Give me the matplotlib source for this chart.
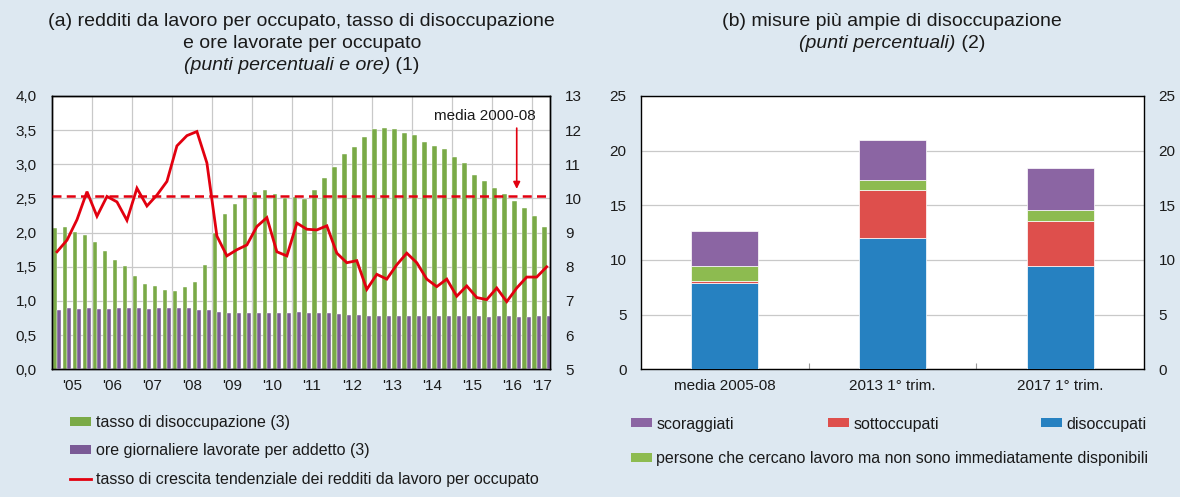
import matplotlib
matplotlib.use('Agg')
import matplotlib.pyplot as plt
import numpy as np
from matplotlib.patches import Patch
from matplotlib.lines import Line2D

plt.rcParams['font.family'] = ['Liberation Sans', 'DejaVu Sans']

W, H = 1180, 497
BG = '#dde8f1'
TXT = '#1a1a1a'

# ---------------- data: panel (a) ----------------
# quarterly, 2005 Q1 onwards (right axis, percent)
unemployment = [9.15, 9.18, 9.03, 8.93, 8.73, 8.46, 8.21, 8.03, 7.74, 7.51,
                7.45, 7.33, 7.29, 7.40, 7.56, 8.05, 8.98, 9.54, 9.84, 10.05,
                10.18, 10.25, 10.12, 10.02, 10.05, 9.99, 10.26, 10.60, 10.93, 11.29,
                11.52, 11.80, 12.03, 12.06, 12.03, 11.91, 11.86, 11.64, 11.54, 11.45,
                11.20, 11.03, 10.70, 10.50, 10.31, 10.14, 9.93, 9.72, 9.48, 9.17]
# daily hours worked per employee (right axis)
hours = [6.74, 6.80, 6.76, 6.78, 6.77, 6.76, 6.78, 6.78, 6.78, 6.77,
         6.78, 6.79, 6.79, 6.78, 6.75, 6.74, 6.67, 6.65, 6.65, 6.65,
         6.64, 6.65, 6.65, 6.65, 6.68, 6.66, 6.66, 6.64, 6.63, 6.59,
         6.59, 6.56, 6.55, 6.56, 6.56, 6.57, 6.56, 6.56, 6.55, 6.56,
         6.55, 6.55, 6.55, 6.54, 6.55, 6.55, 6.54, 6.54, 6.55, 6.55]
# year-on-year growth of labour income per employee (left axis)
income_growth = [1.72, 1.89, 2.19, 2.60, 2.24, 2.53, 2.45, 2.18, 2.65, 2.39,
                 2.55, 2.75, 3.27, 3.42, 3.48, 3.02, 1.95, 1.66, 1.75, 1.82,
                 2.09, 2.22, 1.72, 1.66, 2.14, 2.05, 2.04, 2.10, 1.70, 1.56,
                 1.59, 1.17, 1.39, 1.32, 1.53, 1.70, 1.56, 1.32, 1.21, 1.32,
                 1.07, 1.22, 1.05, 1.02, 1.19, 0.99, 1.19, 1.35, 1.35, 1.50]
avg_2000_08 = 2.54
year_labels = ["'05", "'06", "'07", "'08", "'09", "'10", "'11", "'12", "'13",
               "'14", "'15", "'16", "'17"]
left_ticks = [0.0, 0.5, 1.0, 1.5, 2.0, 2.5, 3.0, 3.5, 4.0]
right_ticks = [5, 6, 7, 8, 9, 10, 11, 12, 13]

# ---------------- data: panel (b) ----------------
categories = ['media 2005-08', '2013 1° trim.', '2017 1° trim.']
disoccupati = [7.87, 12.01, 9.42]
sottoccupati = [0.21, 4.36, 4.18]
non_disponibili = [1.37, 0.98, 1.00]
scoraggiati = [3.20, 3.63, 3.78]
b_ticks = [0, 5, 10, 15, 20, 25]

# colours
c_green_a = '#7aaa47'
c_purple_a = '#7a5a96'
c_red_line = '#e2000f'
c_blue = '#2681c1'
c_red = '#de4f4c'
c_green = '#8dbb50'
c_purple = '#8b65a3'
GRID = '#c9c9c9'


def axrect(x0, x1, ytop, ybot):
    return [x0 / W, 1 - ybot / H, (x1 - x0) / W, (ybot - ytop) / H]


fig = plt.figure(figsize=(W / 100, H / 100), dpi=100, facecolor=BG)

# ================= panel (a) =================
ax2 = fig.add_axes(axrect(52, 550, 96, 369.3))   # right axis (bars)
ax = fig.add_axes(axrect(52, 550, 96, 369.3), sharex=ax2)  # left axis (line)
ax.set_zorder(ax2.get_zorder() + 1)
ax.patch.set_visible(False)
ax2.set_facecolor('white')

n = len(unemployment)
x = np.arange(n)
ax2.set_ylim(5, 13)
ax2.bar(x - 0.22, np.array(unemployment) - 5, bottom=5, width=0.43,
        color=c_green_a, edgecolor='white', linewidth=0.3, zorder=2)
ax2.bar(x + 0.2, np.array(hours) - 5, bottom=5, width=0.41,
        color=c_purple_a, edgecolor='white', linewidth=0.3, zorder=3)
ax2.yaxis.tick_right()
ax2.set_yticks(right_ticks)
ax2.set_yticklabels([str(t) for t in right_ticks])
ax2.tick_params(axis='y', length=0, pad=11, labelsize=11, labelcolor=TXT)
ax2.set_axisbelow(True)
ax2.grid(axis='y', color=GRID, linewidth=0.9, zorder=0)
# year separators
for b in np.arange(3.5, n, 4):
    ax2.axvline(b, color=GRID, linewidth=0.9, zorder=0)

ax.set_ylim(0, 4)
ax.set_xlim(-0.5, 49.33)
ax.plot(x, income_growth, color=c_red_line, linewidth=2.0, zorder=5,
        solid_joinstyle='miter')
ax.axhline(avg_2000_08, color=c_red_line, linewidth=1.8, dashes=(3.6, 2.1), zorder=5)
ax.set_yticks(left_ticks)
ax.set_yticklabels([f'{t:.1f}'.replace('.', ',') for t in left_ticks])
ax.tick_params(axis='y', length=0, pad=11, labelsize=11, labelcolor=TXT)
ax.tick_params(axis='y', which='both', right=False, labelright=False)

label_pos = [1.5 + 4 * i for i in range(12)] + [48.5]
ax.set_xticks(label_pos)
ax.set_xticklabels(year_labels)
ax.tick_params(axis='x', length=0, pad=7, labelsize=11, labelcolor=TXT)
ax2.tick_params(axis='x', length=0, labelbottom=False)

for a in (ax, ax2):
    for s in a.spines.values():
        s.set_color('black')
        s.set_linewidth(1.0)

ax.text(42.85, 3.71, 'media 2000-08', fontsize=11, color=TXT,
        ha='center', va='center', zorder=6)
ax.annotate('', xy=(46.0, 2.64), xytext=(46.0, 3.53),
            arrowprops=dict(arrowstyle='-|>', color=c_red_line, lw=1.2,
                            mutation_scale=10, shrinkA=0, shrinkB=0), zorder=6)

# ================= panel (b) =================
bx = fig.add_axes(axrect(641, 1144, 96, 369.3))
bx.set_facecolor('white')
xb = np.arange(len(categories))
bw = 0.4
bottom = np.zeros(len(categories))
for vals, col in [(disoccupati, c_blue), (sottoccupati, c_red),
                  (non_disponibili, c_green), (scoraggiati, c_purple)]:
    bx.bar(xb, vals, bottom=bottom, width=bw, color=col,
           edgecolor='white', linewidth=0.5, zorder=3)
    bottom = bottom + np.array(vals)
bx.set_xlim(-0.5, 2.5)
bx.set_ylim(0, 25)
bx.set_yticks(b_ticks)
bx.set_yticklabels([str(t) for t in b_ticks])
bx.tick_params(axis='y', length=0, pad=10.5, labelsize=11, labelcolor=TXT,
               right=False, labelright=True)
bx.set_xticks(xb)
bx.set_xticklabels(categories)
bx.tick_params(axis='x', length=0, pad=7, labelsize=11, labelcolor=TXT)
bx.set_xticks([0.5, 1.5], minor=True)
bx.tick_params(axis='x', which='minor', direction='in', length=4,
               color='#999999', width=0.8)
bx.set_axisbelow(True)
bx.grid(axis='y', color=GRID, linewidth=0.9, zorder=0)
for s in bx.spines.values():
    s.set_color('black')
    s.set_linewidth(1.0)

# ================= titles =================
renderer = fig.canvas.get_renderer()


def line_of_parts(xc_px, y_px, parts, fs):
    texts, widths = [], []
    for s, st in parts:
        t = fig.text(0, 1 - y_px / H, s, fontsize=fs, style=st, color=TXT,
                     ha='left', va='center')
        widths.append(t.get_window_extent(renderer=renderer).width)
        texts.append(t)
    x0 = xc_px - sum(widths) / 2
    for t, w in zip(texts, widths):
        t.set_x(x0 / W)
        x0 += w


TFS = 14
line_of_parts(301, 21, [('(a) redditi da lavoro per occupato, tasso di disoccupazione', 'normal')], TFS)
line_of_parts(302, 44, [('e ore lavorate per occupato', 'normal')], TFS)
line_of_parts(302, 65, [('(punti percentuali e ore)', 'italic'), (' (1)', 'normal')], TFS)
line_of_parts(892, 21, [('(b) misure più ampie di disoccupazione', 'normal')], TFS)
line_of_parts(892, 44, [('(punti percentuali)', 'italic'), (' (2)', 'normal')], TFS)

# ================= legends =================
LFS = 11.5
leg_a = fig.legend(
    handles=[Patch(facecolor=c_green_a, edgecolor='none'),
             Patch(facecolor=c_purple_a, edgecolor='none'),
             Line2D([], [], color=c_red_line, linewidth=2)],
    labels=['tasso di disoccupazione (3)',
            'ore giornaliere lavorate per addetto (3)',
            'tasso di crescita tendenziale dei redditi da lavoro per occupato'],
    loc='center left', bbox_to_anchor=(70 / W, 1 - 451 / H), frameon=False,
    fontsize=LFS, handlelength=1.3, handleheight=0.5, handletextpad=0.3,
    labelspacing=0.84, borderpad=0, borderaxespad=0, labelcolor=TXT)


def single_legend(px, py, handle, label):
    fig.legend(handles=[handle], labels=[label], loc='center left',
               bbox_to_anchor=(px / W, 1 - py / H), frameon=False,
               fontsize=LFS, handlelength=1.3, handleheight=0.5,
               handletextpad=0.28, borderpad=0, borderaxespad=0, labelcolor=TXT)


single_legend(631, 424, Patch(facecolor=c_purple, edgecolor='none'), 'scoraggiati')
single_legend(828, 424, Patch(facecolor=c_red, edgecolor='none'), 'sottoccupati')
single_legend(1041, 424, Patch(facecolor=c_blue, edgecolor='none'), 'disoccupati')
single_legend(631, 459, Patch(facecolor=c_green, edgecolor='none'),
              'persone che cercano lavoro ma non sono immediatamente disponibili')

fig.savefig('out.png', dpi=100, facecolor=BG)
